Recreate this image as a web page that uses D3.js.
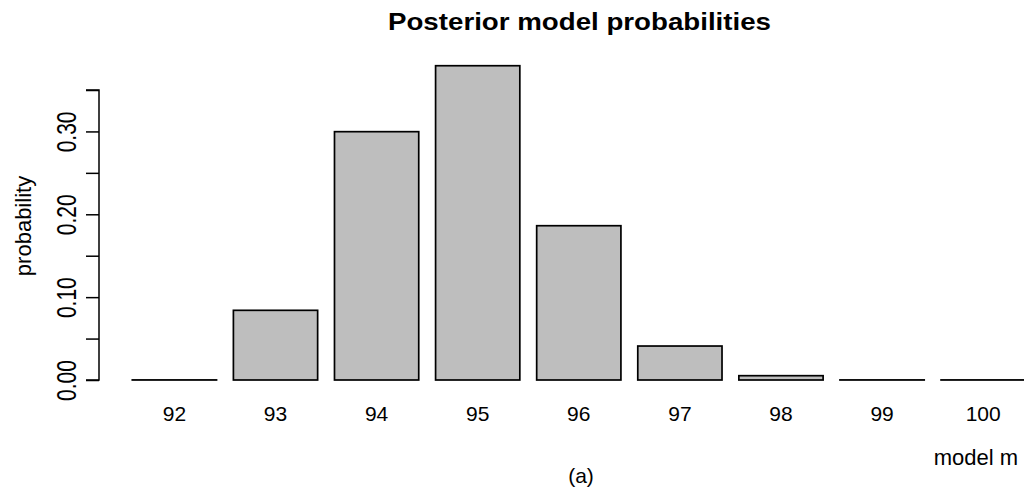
<!DOCTYPE html>
<html>
<head>
<meta charset="utf-8">
<script src="https://cdn.jsdelivr.net/npm/d3@7"></script>
<style>
  body { margin: 0; background: #fff; }
  text { font-family: "Liberation Sans", Arial, Helvetica, sans-serif; fill: #000; }
</style>
</head>
<body>
<div id="vis"></div>
<script>
var width = 1024,
    height = 490;

// data
var models = ["92", "93", "94", "95", "96", "97", "98", "99", "100"];
var probs = [0.0001, 0.0841, 0.2997, 0.3793, 0.1862, 0.0410, 0.0052, 0.0001, 0.0001];
var yTicks = [0, 0.05, 0.10, 0.15, 0.20, 0.25, 0.30, 0.35];
var yLabelled = [0, 0.10, 0.20, 0.30];

var svg = d3.select("#vis").append("svg")
    .attr("width", width)
    .attr("height", height);

// bars 84px wide, R barplot spacing 0.2
var x = d3.scaleBand()
    .domain(models)
    .range([132.3, 1025.3])
    .paddingInner(0.2 / 1.2)
    .paddingOuter(0);

var y = d3.scaleLinear()
    .domain([0, 0.35])
    .range([380, 90]);

// title is rendered wide in the original, stretch it
svg.append("text")
    .attr("x", 388)
    .attr("y", 30)
    .attr("text-anchor", "start")
    .attr("textLength", 383)
    .attr("lengthAdjust", "spacingAndGlyphs")
    .style("font-weight", "bold")
    .style("font-size", "23px")
    .text("Posterior model probabilities");

svg.selectAll("rect.bar")
    .data(probs)
    .enter()
    .append("rect")
    .attr("class", "bar")
    .attr("x", function(d, i) { return x(models[i]); })
    .attr("y", function(d) { return y(d); })
    .attr("width", x.bandwidth())
    .attr("height", function(d) { return y(0) - y(d); })
    .attr("fill", "#bebebe")
    .attr("stroke", "#000")
    .attr("stroke-width", 1.7);

// x labels (no axis line, like barplot names)
svg.selectAll("text.xlab")
    .data(models)
    .enter()
    .append("text")
    .attr("class", "xlab")
    .attr("x", function(d) { return x(d) + x.bandwidth() / 2; })
    .attr("y", 421)
    .attr("text-anchor", "middle")
    .style("font-size", "21px")
    .text(function(d) { return d; });

var yAxis = d3.axisLeft(y)
    .tickValues(yTicks)
    .tickSize(13)
    .tickPadding(11)
    .tickFormat(function(d) {
        return yLabelled.some(function(v) { return Math.abs(v - d) < 1e-9; }) ? d3.format(".2f")(d) : "";
    });

var gy = svg.append("g")
    .attr("transform", "translate(99,0)")
    .call(yAxis);

gy.select(".domain")
    .attr("d", "M-13," + y(0.35) + "H0V" + y(0) + "H-13")
    .attr("stroke", "#000")
    .attr("stroke-width", 1.5);
gy.selectAll(".tick line").attr("stroke", "#000").attr("stroke-width", 1.5);
gy.selectAll(".tick text")
    .attr("transform", "rotate(-90) scale(1,1.3)")
    .attr("x", 0)
    .attr("y", -23 / 1.3)
    .attr("dy", 0)
    .attr("text-anchor", "middle")
    .style("font-size", "21px")
    .style("font-family", "'Liberation Sans', Arial, sans-serif")
    .attr("fill", "#000");

svg.append("text")
    .attr("transform", "translate(31,226) rotate(-90)")
    .attr("text-anchor", "middle")
    .style("font-size", "22px")
    .text("probability");

svg.append("text")
    .attr("x", 1018)
    .attr("y", 465)
    .attr("text-anchor", "end")
    .style("font-size", "22px")
    .text("model m");

svg.append("text")
    .attr("x", 581)
    .attr("y", 483)
    .attr("text-anchor", "middle")
    .style("font-size", "21px")
    .text("(a)");
</script>
</body>
</html>
